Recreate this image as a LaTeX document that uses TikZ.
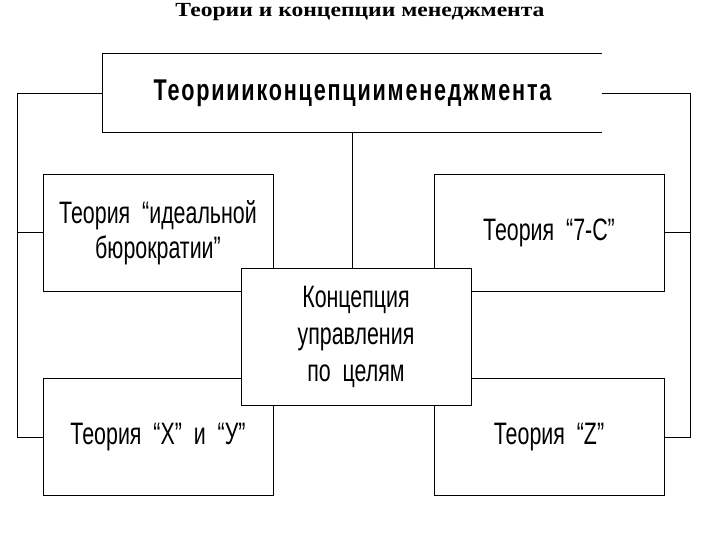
\documentclass[tikz,border=0pt]{standalone}
\usepackage{fontspec}
\setmainfont{Liberation Serif}
\newfontfamily\boxfont[FakeStretch=0.69]{Liberation Sans}
\newfontfamily\headfont[FakeStretch=0.72,LetterSpace=6]{Liberation Sans}
\newfontfamily\titlefont[FakeStretch=1.18]{Liberation Serif}
\usetikzlibrary{positioning}
\tikzset{
  frame/.style={draw=black, line width=0.9pt},
  theory/.style={frame, fill=white, align=center, minimum width=230pt,
    minimum height=117pt, inner sep=2pt, font=\boxfont\fontsize{31}{35}\selectfont},
  concept/.style={theory, minimum height=137pt, font=\boxfont\fontsize{31}{37}\selectfont},
  headbox/.style={minimum width=499pt, minimum height=78pt, inner sep=0pt,
    font=\headfont\bfseries\fontsize{30}{36}\selectfont},
  pagetitle/.style={font=\titlefont\bfseries\fontsize{20}{22}\selectfont},
  link/.style={draw=black, line width=0.9pt},
}

\begin{document}
\begin{tikzpicture}[x=1pt,y=-1pt]
\useasboundingbox (0,0) rectangle (720,540);

% page title
\node[pagetitle, anchor=base] (ttl) at (360,17) {Теории и концепции менеджмента};

% main box, open on the right
\node[headbox] (main) at (352.5,93) {Теориииконцепциименеджмента};
\draw[link] (main.north east) -- (main.north west) -- (main.south west) -- (main.south east);

% theories
\node[theory] (th1) at (158,232.5) {Теория~ “идеальной\\бюрократии”};
\node[theory] (th2) at (549,232.5) {Теория~ “7-С”};
\node[theory] (th3) at (158,437) {Теория~ “X”~ и~ “У”};
\node[theory] (th4) at (549,437) {Теория~ “Z”};
\node[concept] (mbo) at (356,336.5) {Концепция\\управления\\по~ целям};

% rails
\coordinate (lrail) at (17,97);
\coordinate (rrail) at (690,97);
\draw[link] (main.west) -- (main.west -| lrail) |- (th3.west);
\draw[link] (th1.west) -- (th1.west -| lrail);
\draw[link] (main.east) -- (main.east -| rrail) |- (th4.east);
\draw[link] (th2.east) -- (th2.east -| rrail);
\draw[link] (main.south) -- (mbo.north -| main.south);

\end{tikzpicture}
\end{document}
